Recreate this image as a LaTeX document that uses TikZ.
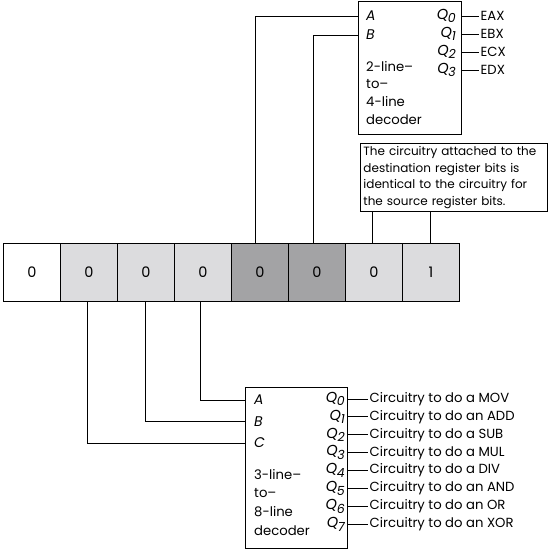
\documentclass[tikz,border=0pt]{standalone}
\usepackage{fontspec}
\setmainfont{Poppins}
\definecolor{lgray}{RGB}{220,220,222}
\definecolor{dgray}{RGB}{163,163,165}
\newcommand{\qsub}[1]{{\fontsize{14.5}{15}\selectfont\itshape Q\kern-0.3pt\raisebox{-0.45ex}{\fontsize{12.5}{12.5}\selectfont #1}}}
\begin{document}
\begin{tikzpicture}[x=1pt,y=-1pt,
  txt/.style={font=\fontsize{13.2}{15}\selectfont},
  cell/.style={draw, line width=1pt, minimum width=57pt, minimum height=58pt, inner sep=0pt, anchor=north west, font=\fontsize{14.5}{16}\selectfont},
  box/.style={draw, line width=0.9pt, anchor=north west, inner sep=0pt},
  wire/.style={line width=0.9pt},
  lbl/.style={anchor=west, inner sep=0pt, txt},
  qlbl/.style={anchor=east, inner sep=0pt, txt},
  outlbl/.style={anchor=west, inner sep=1.5pt, txt}]
\useasboundingbox (0,0) rectangle (549,550);
% register
\node[cell, fill=white] (c0) at (3,243) {0};
\node[cell, fill=lgray] (c1) at (60,243) {0};
\node[cell, fill=lgray] (c2) at (117,243) {0};
\node[cell, fill=lgray] (c3) at (174,243) {0};
\node[cell, fill=dgray] (c4) at (231,243) {0};
\node[cell, fill=dgray] (c5) at (288,243) {0};
\node[cell, fill=lgray] (c6) at (345,243) {0};
\node[cell, fill=lgray] (c7) at (402,243) {1};
% top decoder
\node[box, minimum width=103pt, minimum height=133pt] (dec1) at (358,1) {};
\node[lbl, font=\fontsize{14}{15}\selectfont] (a1) at (366,16) {\itshape A};
\node[lbl, font=\fontsize{14}{15}\selectfont] (b1) at (366,35) {\itshape B};
\node[lbl, align=left, anchor=north west, font=\fontsize{13.2}{17.7}\selectfont] (t1) at (366,61) {2-line–\\to–\\4-line\\decoder};
\node[qlbl] (q10) at (456,16) {\qsub{0}};
\node[qlbl] (q11) at (456,34) {\qsub{1}};
\node[qlbl] (q12) at (456,52) {\qsub{2}};
\node[qlbl] (q13) at (456,70) {\qsub{3}};
\node[outlbl] (eax) at (479,16) {EAX};
\node[outlbl] (ebx) at (479,34) {EBX};
\node[outlbl] (ecx) at (479,52) {ECX};
\node[outlbl] (edx) at (479,70) {EDX};
\foreach \o in {eax,ebx,ecx,edx} \draw[wire] (dec1.east |- \o.west) -- (\o.west);
\draw[wire] ([xshift=-5pt]c4.north) |- (dec1.west |- a1.west);
\draw[wire] ([xshift=-4pt]c5.north) |- (dec1.west |- b1.west);
% note
\node[box, text width=181pt, align=left, inner sep=3pt, font=\fontsize{12}{16.5}\selectfont] (note) at (360,143) {The circuitry attached to the\\destination register bits is\\identical to the circuitry for\\the source register bits.};
\draw[wire] ([xshift=-1.5pt]c6.north) -- ([xshift=-1.5pt]c6.north |- note.south);
\draw[wire] ([xshift=-0.5pt]c7.north) -- ([xshift=-0.5pt]c7.north |- note.south);
% bottom decoder
\node[box, minimum width=102pt, minimum height=161pt] (dec2) at (245,387) {};
\node[lbl, font=\fontsize{14}{15}\selectfont] (a2) at (254,400) {\itshape A};
\node[lbl, font=\fontsize{14}{15}\selectfont] (b2) at (254,421.5) {\itshape B};
\node[lbl, font=\fontsize{14}{15}\selectfont] (cc2) at (254,443) {\itshape C};
\node[lbl, align=left, anchor=north west, font=\fontsize{13.2}{18.7}\selectfont] (t2) at (254,469) {3-line–\\to–\\8-line\\decoder};
\foreach \i/\t in {0/{Circuitry to do a MOV},1/{Circuitry to do an ADD},2/{Circuitry to do a SUB},3/{Circuitry to do a MUL},4/{Circuitry to do a DIV},5/{Circuitry to do an AND},6/{Circuitry to do an OR},7/{Circuitry to do an XOR}} {
  \node[qlbl] (q2\i) at (345,{399+17.9*\i}) {\qsub{\i}};
  \node[outlbl] (o2\i) at (368,{399+17.9*\i}) {\t};
  \draw[wire] (dec2.east |- o2\i.west) -- (o2\i.west);
}
\draw[wire] ([xshift=-2.5pt]c3.south) |- (dec2.west |- a2.west);
\draw[wire] ([xshift=-0.5pt]c2.south) |- (dec2.west |- b2.west);
\draw[wire] ([xshift=-1.5pt]c1.south) |- (dec2.west |- cc2.west);
\end{tikzpicture}
\end{document}
